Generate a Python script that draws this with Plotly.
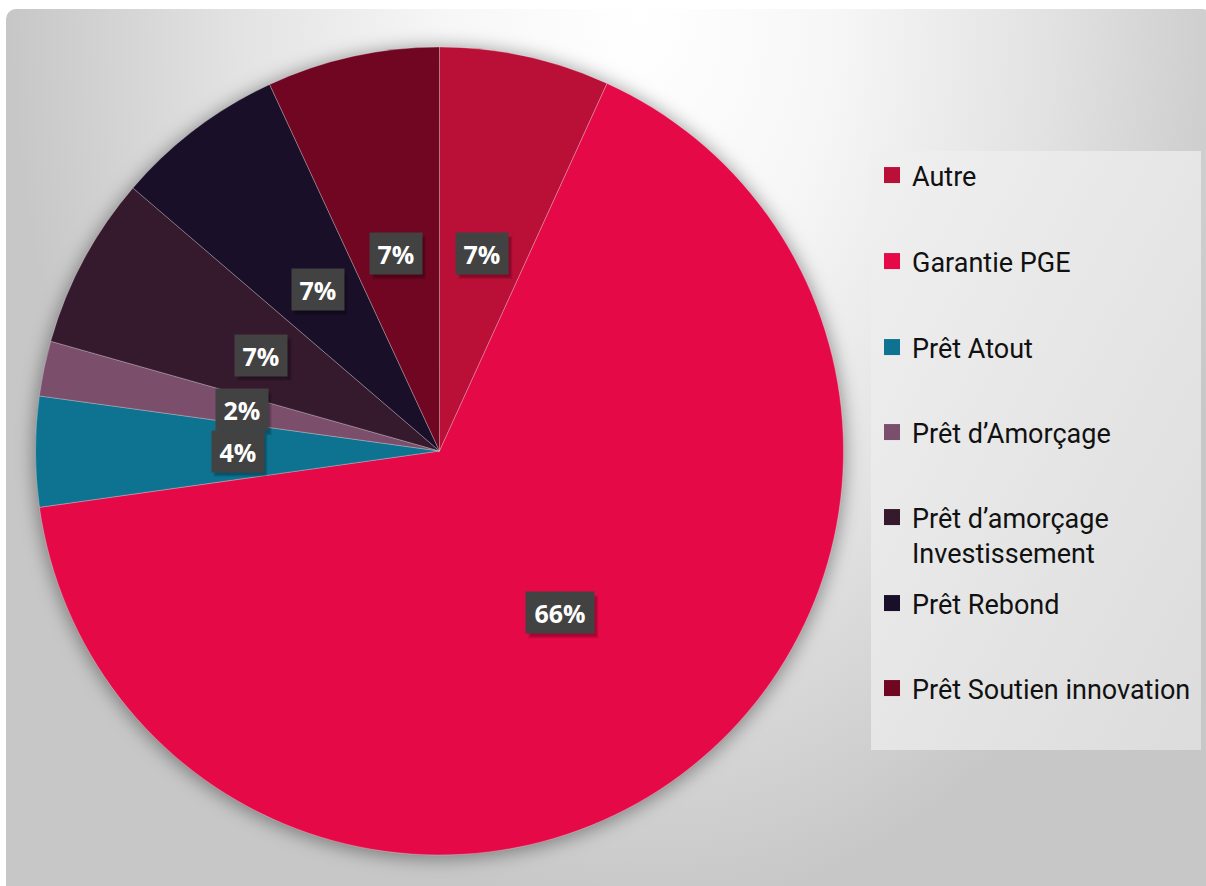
import base64
import math
import plotly.graph_objects as go

# ---- data ----
categories = ["Autre", "Garantie PGE", "Prêt Atout", "Prêt d’Amorçage",
              "Prêt d’amorçage Investissement", "Prêt Rebond", "Prêt Soutien innovation"]
legend_labels = ["Autre", "Garantie PGE", "Prêt Atout", "Prêt d’Amorçage",
                 "Prêt d’amorçage<br>Investissement", "Prêt Rebond", "Prêt Soutien innovation"]
values = [6.8, 65.9, 4.4, 2.2, 6.9, 6.8, 6.9]
colors = ["#BA0F37", "#E50A47", "#0E7391", "#7B4F6C", "#35192D", "#1A0F28", "#700622"]

# ---- layout geometry (pixels) ----
W, H = 1206, 886
CX, CY, R = 439.5, 451.0, 404.0

# background drawn as an SVG image
svg = f'''<svg xmlns="http://www.w3.org/2000/svg" width="{W}" height="{H}" viewBox="0 0 {W} {H}">
<defs>
<radialGradient id="bg" gradientUnits="userSpaceOnUse" cx="640" cy="15" r="900"
  gradientTransform="translate(640,15) scale(0.7,1) translate(-640,-15)">
<stop offset="0" stop-color="#ffffff"/>
<stop offset="0.3" stop-color="#f7f7f7"/>
<stop offset="0.65" stop-color="#e2e2e2"/>
<stop offset="1" stop-color="#c7c7c7"/>
</radialGradient>
<linearGradient id="lg" x1="0" y1="0" x2="1" y2="1">
<stop offset="0" stop-color="#f0f0f0"/>
<stop offset="1" stop-color="#dcdcdc"/>
</linearGradient>
<filter id="blur" x="-20%" y="-20%" width="140%" height="140%">
<feGaussianBlur stdDeviation="9"/>
</filter>
<filter id="sblur" x="-30%" y="-30%" width="160%" height="160%">
<feGaussianBlur stdDeviation="2"/>
</filter>
</defs>
<rect x="0" y="0" width="{W}" height="{H}" fill="#ffffff"/>
<rect x="6" y="9" width="{W}" height="{H}" rx="10" fill="url(#bg)"/>
<circle cx="{CX}" cy="{CY + 2}" r="{R + 2}" fill="#000000" fill-opacity="0.38" filter="url(#blur)"/>
<rect x="871" y="151" width="330" height="599" fill="url(#lg)"/>
</svg>'''
svg_uri = "data:image/svg+xml;base64," + base64.b64encode(svg.encode("utf-8")).decode("ascii")

fig = go.Figure()

fig.add_trace(go.Pie(
    labels=categories,
    values=values,
    sort=False,
    direction="clockwise",
    rotation=0,
    marker=dict(colors=colors, line=dict(color="rgba(255,255,255,0.35)", width=0.8)),
    textinfo="none",
    hoverinfo="label+percent",
    showlegend=False,
    domain=dict(x=[(CX - R) / W, (CX + R) / W], y=[1 - (CY + R) / H, 1 - (CY - R) / H]),
))

# legend: one dummy trace per category, each in its own legend
legend_centers = [176, 262, 348, 433, 518, 604, 689]
layout_legends = {}
for i, (lab, col) in enumerate(zip(legend_labels, colors)):
    key = "legend" if i == 0 else f"legend{i + 1}"
    fig.add_trace(go.Scatter(
        x=[None], y=[None], mode="markers", name=lab,
        marker=dict(symbol="square", size=16, color=col),
        legend=key, showlegend=True, hoverinfo="skip",
    ))
    layout_legends[key] = dict(
        x=872 / W, xanchor="left",
        y=1 - (legend_centers[i] - 25) / H, yanchor="top",
        bgcolor="rgba(0,0,0,0)", borderwidth=0,
        font=dict(family="Roboto", size=27, color="#111111"),
        itemsizing="trace", valign="top",
        itemclick=False, itemdoubleclick=False,
    )

# percentage labels at mid-angle, half radius
total = sum(values)
annotations = []
shapes = []
cum = 0.0
for v in values:
    mid = math.radians((cum + v / 2) / total * 360)
    cum += v
    px = CX + 0.5 * R * math.sin(mid)
    py = CY - 0.5 * R * math.cos(mid)
    txt = f"{round(v / total * 100)}%"
    bw = 16 * len(txt) + 14
    # soft drop shadow of the label box
    for k, op in enumerate([0.10, 0.10, 0.10]):
        g = k + 1
        shapes.append(dict(
            type="rect", xref="paper", yref="paper", layer="above",
            x0=(px - bw / 2 - 3 + 3 - g + 2) / W, x1=(px + bw / 2 + 3 + 3 + g - 2) / W,
            y0=1 - (py + 20.5 + 4 + g - 2) / H, y1=1 - (py - 20.5 + 4 - g + 2) / H,
            fillcolor=f"rgba(0,0,0,{op})", line=dict(width=0),
        ))
    annotations.append(dict(
        text=txt, x=px / W, y=1 - py / H, xref="paper", yref="paper",
        xanchor="center", yanchor="middle",
        showarrow=False, borderpad=3, width=bw, height=35, bgcolor="#424242",
        font=dict(family="Open Sans", size=25, color="white", weight="bold"),
    ))

fig.update_layout(
    width=W, height=H,
    margin=dict(l=0, r=0, t=0, b=0),
    paper_bgcolor="white",
    plot_bgcolor="rgba(0,0,0,0)",
    xaxis=dict(visible=False),
    yaxis=dict(visible=False),
    images=[dict(source=svg_uri, xref="paper", yref="paper", x=0, y=1,
                 sizex=1, sizey=1, xanchor="left", yanchor="top",
                 sizing="stretch", layer="below")],
    annotations=annotations,
    shapes=shapes,
    **layout_legends,
)

fig.write_html("out.html", config={"displayModeBar": False},
               post_script="document.body.style.margin='0';document.body.style.overflow='hidden';")
